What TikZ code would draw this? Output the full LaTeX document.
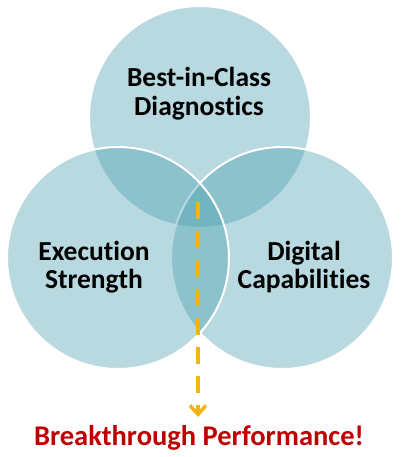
\documentclass[tikz,border=0pt]{standalone}
\usepackage{fontspec}
\setmainfont{Carlito}[Ligatures={NoCommon,NoContextual}]
\usetikzlibrary{arrows.meta}
\definecolor{vteal}{RGB}{75,160,175}
\definecolor{vgold}{RGB}{240,180,20}
\definecolor{vred}{RGB}{192,0,0}
\tikzset{
  venn/.style={circle, minimum size=222pt, inner sep=0pt, outer sep=0pt,
    fill=vteal, fill opacity=0.4, draw=white, draw opacity=1, line width=2pt},
  label/.style={font=\fontsize{27.5pt}{30pt}\selectfont\bfseries, text=black, anchor=base, inner sep=0pt},
  flow/.style={draw=vgold, line width=4pt, dash pattern=on 17pt off 12pt,
    -{Straight Barb[length=9pt,width=16pt,line width=3.5pt]}}
}
\begin{document}
\begin{tikzpicture}[x=1pt,y=-1pt]
\useasboundingbox (0,0) rectangle (400,457);
\node[venn] (top) at (200,117) {};
\node[venn] (right) at (282,258) {};
\node[venn] (left) at (118,258) {};
\node[label] (diag1) at (199,87) {Best-in-Class};
\node[label] (diag2) at (199,116) {Diagnostics};
\node[label] (exec1) at (94,260) {Execution};
\node[label] (exec2) at (94,288) {Strength};
\node[label] (digi1) at (304,260) {Digital};
\node[label] (digi2) at (304,288) {Capabilities};
\node[font=\fontsize{28.5pt}{30pt}\selectfont\bfseries, text=vred, anchor=base, inner sep=0pt] (brk) at (199,445) {Breakthrough Performance!};
\coordinate (s) at (198,202);
\coordinate (e) at (198,417);
\draw[flow] (s) -- (e);
\end{tikzpicture}
\end{document}
